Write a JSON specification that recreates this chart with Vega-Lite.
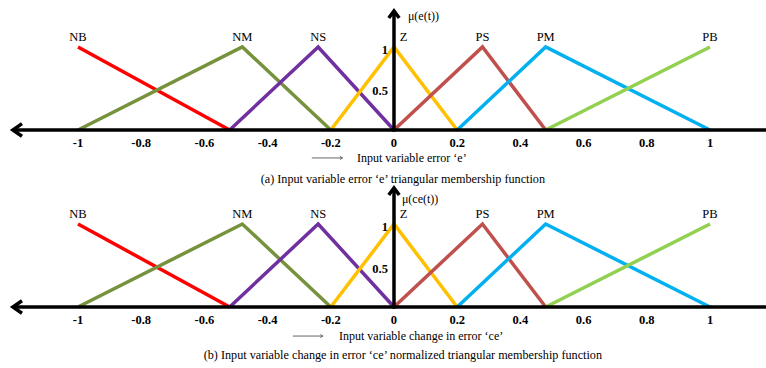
{
 "$schema": "https://vega.github.io/schema/vega-lite/v6.json",
 "padding": 0,
 "spacing": 0,
 "bounds": "flush",
 "background": "white",
 "config": {"view": {"stroke": null}},
 "datasets": {
  "mf": [
   {"set":"NB","x":-1,"y":1},{"set":"NB","x":-0.52,"y":0},
   {"set":"NM","x":-1,"y":0},{"set":"NM","x":-0.48,"y":1},{"set":"NM","x":-0.2,"y":0},
   {"set":"NS","x":-0.52,"y":0},{"set":"NS","x":-0.24,"y":1},{"set":"NS","x":0,"y":0},
   {"set":"Z","x":-0.2,"y":0},{"set":"Z","x":0,"y":1},{"set":"Z","x":0.2,"y":0},
   {"set":"PS","x":0,"y":0},{"set":"PS","x":0.28,"y":1},{"set":"PS","x":0.48,"y":0},
   {"set":"PM","x":0.2,"y":0},{"set":"PM","x":0.48,"y":1},{"set":"PM","x":1,"y":0},
   {"set":"PB","x":0.48,"y":0},{"set":"PB","x":1,"y":1}
  ],
  "setlabels": [
   {"x":-1,"y":1,"t":"NB"},{"x":-0.48,"y":1,"t":"NM"},{"x":-0.24,"y":1,"t":"NS"},
   {"x":0.03,"y":1,"t":"Z"},{"x":0.28,"y":1,"t":"PS"},{"x":0.48,"y":1,"t":"PM"},{"x":1,"y":1,"t":"PB"}
  ],
  "xticks": [
   {"x":-1,"y":0,"t":"-1"},{"x":-0.8,"y":0,"t":"-0.8"},{"x":-0.6,"y":0,"t":"-0.6"},
   {"x":-0.4,"y":0,"t":"-0.4"},{"x":-0.2,"y":0,"t":"-0.2"},{"x":0,"y":0,"t":"0"},
   {"x":0.2,"y":0,"t":"0.2"},{"x":0.4,"y":0,"t":"0.4"},{"x":0.6,"y":0,"t":"0.6"},
   {"x":0.8,"y":0,"t":"0.8"},{"x":1,"y":0,"t":"1"}
  ],
  "yticks": [{"x":0,"y":1,"t":"1"},{"x":0,"y":0.5,"t":"0.5"}],
  "axes": [{"x":-1.206,"x2":1.18,"y":0,"y2":0},{"x":0,"x2":0,"y":-0.02,"y2":1.434}],
  "leftarrow": [{"x":-1.206,"y":0}],
  "uparrow": [{"x":0,"y":1.434}]
 },
 "vconcat": [
  {
   "width": 766, "height": 184,
   "encoding": {
    "x": {"field":"x","type":"quantitative","scale":{"domain":[-1.2468,1.1772],"nice":false,"zero":false},"axis":null},
    "y": {"field":"y","type":"quantitative","scale":{"domain":[-0.651,1.566],"nice":false,"zero":false},"axis":null}
   },
   "layer": [
    {"data":{"name":"mf"},"mark":{"type":"line","strokeWidth":3.5,"strokeCap":"butt"},
     "encoding":{"color":{"field":"set","type":"nominal","legend":null,"scale":{"domain":["NB","NM","NS","Z","PS","PM","PB"],"range":["#ff0000","#76923c","#7030a0","#ffc000","#c0504d","#00b0f0","#92d050"]}}}},
    {"data":{"name":"axes"},"mark":{"type":"rule","strokeWidth":3.5,"color":"black"},
     "encoding":{"x2":{"field":"x2"},"y2":{"field":"y2"}}},
    {"data":{"name":"leftarrow"},"mark":{"type":"point","shape":"M1.3,-0.9L0,0L1.3,0.9","size":196,"filled":false,"color":"black","strokeWidth":3.5,"opacity":1,"strokeJoin":"miter"}},
    {"data":{"name":"uparrow"},"mark":{"type":"point","shape":"M-0.75,1L0,0L0.75,1","size":196,"filled":false,"color":"black","strokeWidth":3.5,"opacity":1,"strokeJoin":"miter"}},
    {"data":{"name":"setlabels"},"mark":{"type":"text","font":"Liberation Serif","fontSize":12.5,"dy":-10,"baseline":"middle","align":"center","color":"black"},"encoding":{"text":{"field":"t"}}},
    {"data":{"name":"xticks"},"mark":{"type":"text","font":"Liberation Serif","fontSize":12.5,"fontWeight":"bold","dy":13,"baseline":"middle","align":"center","color":"black"},"encoding":{"text":{"field":"t"}}},
    {"data":{"name":"yticks"},"mark":{"type":"text","font":"Liberation Serif","fontSize":12.5,"fontWeight":"bold","dx":-6,"dy":3,"baseline":"middle","align":"right","color":"black"},"encoding":{"text":{"field":"t"}}},
    {"data":{"values":[{"x":0.044,"y":1.373,"t":"μ(e(t))"}]},"mark":{"type":"text","font":"Liberation Serif","fontSize":12,"baseline":"middle","align":"left","color":"black"},"encoding":{"text":{"field":"t"}}},
    {"data":{"values":[{"x":-0.26,"x2":-0.163,"y":-0.337}]},"mark":{"type":"rule","strokeWidth":1,"color":"#666666"},"encoding":{"x2":{"field":"x2"}}},
    {"data":{"values":[{"x":-0.163,"y":-0.337}]},"mark":{"type":"point","shape":"M-1,-0.6L0,0L-1,0.6","size":25,"filled":false,"color":"#666666","strokeWidth":1,"opacity":1}},
    {"data":{"values":[{"x":-0.117,"y":-0.337,"t":"Input variable error ‘e’"}]},"mark":{"type":"text","font":"Liberation Serif","fontSize":12,"baseline":"middle","align":"left","color":"black"},"encoding":{"text":{"field":"t"}}},
    {"data":{"values":[{"x":0.028,"y":-0.59,"t":"(a) Input variable error ‘e’ triangular membership function"}]},"mark":{"type":"text","font":"Liberation Serif","fontSize":12.2,"baseline":"middle","align":"center","color":"black"},"encoding":{"text":{"field":"t"}}}
   ]
  },
  {
   "width": 766, "height": 184,
   "encoding": {
    "x": {"field":"x","type":"quantitative","scale":{"domain":[-1.2468,1.1772],"nice":false,"zero":false},"axis":null},
    "y": {"field":"y","type":"quantitative","scale":{"domain":[-0.735,1.482],"nice":false,"zero":false},"axis":null}
   },
   "layer": [
    {"data":{"name":"mf"},"mark":{"type":"line","strokeWidth":3.5,"strokeCap":"butt"},
     "encoding":{"color":{"field":"set","type":"nominal","legend":null,"scale":{"domain":["NB","NM","NS","Z","PS","PM","PB"],"range":["#ff0000","#76923c","#7030a0","#ffc000","#c0504d","#00b0f0","#92d050"]}}}},
    {"data":{"name":"axes"},"mark":{"type":"rule","strokeWidth":3.5,"color":"black"},
     "encoding":{"x2":{"field":"x2"},"y2":{"field":"y2"}}},
    {"data":{"name":"leftarrow"},"mark":{"type":"point","shape":"M1.3,-0.9L0,0L1.3,0.9","size":196,"filled":false,"color":"black","strokeWidth":3.5,"opacity":1,"strokeJoin":"miter"}},
    {"data":{"name":"uparrow"},"mark":{"type":"point","shape":"M-0.75,1L0,0L0.75,1","size":196,"filled":false,"color":"black","strokeWidth":3.5,"opacity":1,"strokeJoin":"miter"}},
    {"data":{"name":"setlabels"},"mark":{"type":"text","font":"Liberation Serif","fontSize":12.5,"dy":-10,"baseline":"middle","align":"center","color":"black"},"encoding":{"text":{"field":"t"}}},
    {"data":{"name":"xticks"},"mark":{"type":"text","font":"Liberation Serif","fontSize":12.5,"fontWeight":"bold","dy":13,"baseline":"middle","align":"center","color":"black"},"encoding":{"text":{"field":"t"}}},
    {"data":{"name":"yticks"},"mark":{"type":"text","font":"Liberation Serif","fontSize":12.5,"fontWeight":"bold","dx":-6,"dy":3,"baseline":"middle","align":"right","color":"black"},"encoding":{"text":{"field":"t"}}},
    {"data":{"values":[{"x":0.025,"y":1.30,"t":"μ(ce(t))"}]},"mark":{"type":"text","font":"Liberation Serif","fontSize":12,"baseline":"middle","align":"left","color":"black"},"encoding":{"text":{"field":"t"}}},
    {"data":{"values":[{"x":-0.32,"x2":-0.225,"y":-0.35}]},"mark":{"type":"rule","strokeWidth":1,"color":"#666666"},"encoding":{"x2":{"field":"x2"}}},
    {"data":{"values":[{"x":-0.225,"y":-0.35}]},"mark":{"type":"point","shape":"M-1,-0.6L0,0L-1,0.6","size":25,"filled":false,"color":"#666666","strokeWidth":1,"opacity":1}},
    {"data":{"values":[{"x":-0.174,"y":-0.35,"t":"Input variable change in error ‘ce’"}]},"mark":{"type":"text","font":"Liberation Serif","fontSize":12,"baseline":"middle","align":"left","color":"black"},"encoding":{"text":{"field":"t"}}},
    {"data":{"values":[{"x":0.028,"y":-0.578,"t":"(b) Input variable change in error ‘ce’ normalized triangular membership function"}]},"mark":{"type":"text","font":"Liberation Serif","fontSize":12.2,"baseline":"middle","align":"center","color":"black"},"encoding":{"text":{"field":"t"}}}
   ]
  }
 ]
}
